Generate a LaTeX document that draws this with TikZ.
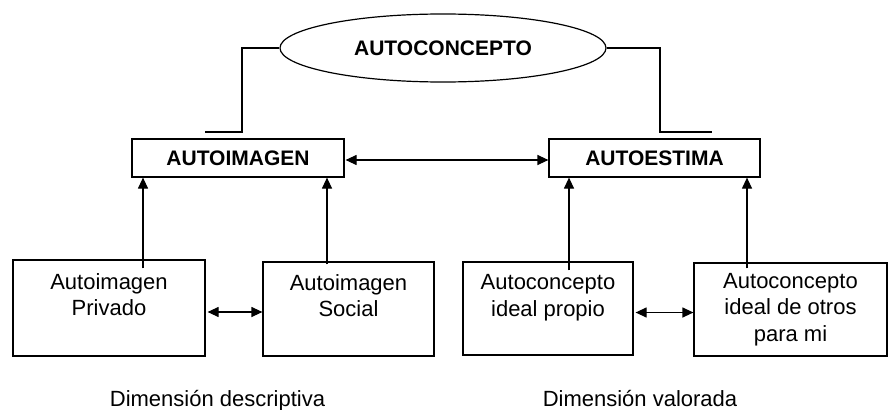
\documentclass[tikz,border=0pt]{standalone}
\usepackage{fontspec}
\setmainfont{Liberation Sans}
\usetikzlibrary{arrows.meta}
\usetikzlibrary{shapes.geometric}

\tikzset{
	caja/.style={draw, line width=1.2pt, rectangle, inner sep=0pt, align=center, font=\fontsize{22}{26.5}\selectfont},
	titulo/.style={draw, line width=1.2pt, rectangle, inner sep=0pt, font=\fontsize{21}{25}\selectfont\bfseries},
	linea/.style={line width=1.2pt},
	flecha/.style={line width=1.2pt, -{Triangle[length=11pt,width=10pt]}},
	dobleflecha/.style={line width=1.2pt, {Triangle[length=11pt,width=10pt]}-{Triangle[length=11pt,width=10pt]}},
	rotulo/.style={font=\fontsize{22}{26.5}\selectfont, inner sep=0pt, anchor=base}
}

\begin{document}
\begin{tikzpicture}[x=1pt,y=-1pt]
	% 890 x 409, y grows downwards
	\useasboundingbox (0,0) rectangle (890,409);
	
	% autoconcepto
	\node[draw, ellipse, line width=1.2pt, minimum width=326pt, minimum height=68pt, inner sep=0pt, font=\fontsize{21}{25}\selectfont\bfseries] (concepto) at (443,48) {AUTOCONCEPTO};
	\coordinate (izqA) at (242,132);
	\coordinate (izqB) at (205,132);
	\coordinate (derA) at (660,132);
	\coordinate (derB) at (712,132);
	\draw[linea] (concepto.west) -| (izqA) -- (izqB);
	\draw[linea] (concepto.east) -| (derA) -- (derB);
	
	% dimensiones
	\node[titulo, minimum width=212pt, minimum height=38pt] (imagen) at (238,158) {AUTOIMAGEN};
	\node[titulo, minimum width=211pt, minimum height=38pt] (estima) at (654.5,158) {AUTOESTIMA};
	\draw[dobleflecha, shorten <=1pt] ([yshift=-2pt]imagen.east) -- ([yshift=-2pt]estima.west);
	
	% componentes
	\node[caja, minimum width=192pt, minimum height=96pt] (privado) at (109,308) {Autoimagen\\Privado\\\mbox{}};
	\node[caja, minimum width=171pt, minimum height=94pt] (social) at (348.5,309) {Autoimagen\\Social\\\mbox{}};
	\node[caja, minimum width=170pt, minimum height=93pt] (propio) at (548,308.5) {Autoconcepto\\ideal propio\\\mbox{}};
	\node[caja, minimum width=193pt, minimum height=93pt] (otros) at (790.5,309.5) {Autoconcepto\\ideal de otros\\para mi};
	
	\draw[flecha, shorten <=-9pt] ([xshift=34pt]privado.north) -- ([xshift=34pt]privado.north |- imagen.south);
	\draw[flecha, shorten <=-3pt] ([xshift=-21.5pt]social.north) -- ([xshift=-21.5pt]social.north |- imagen.south);
	\draw[flecha, shorten <=-9pt] ([xshift=21pt]propio.north) -- ([xshift=21pt]propio.north |- estima.south);
	\draw[flecha, shorten <=-6pt] ([xshift=-43.5pt]otros.north) -- ([xshift=-43.5pt]otros.north |- estima.south);
	
	\draw[dobleflecha, shorten <=2pt] ([yshift=-4pt]privado.east) -- ([yshift=-4pt]privado.east -| social.west);
	\draw[dobleflecha, shorten <=2pt] ([yshift=-4pt]propio.east) -- ([yshift=-4pt]propio.east -| otros.west);
	
	% rotulos
	\node[rotulo] (descriptiva) at (217.5,406) {Dimensión descriptiva};
	\node[rotulo] (valorada) at (640,406) {Dimensión valorada};
\end{tikzpicture}
\end{document}
